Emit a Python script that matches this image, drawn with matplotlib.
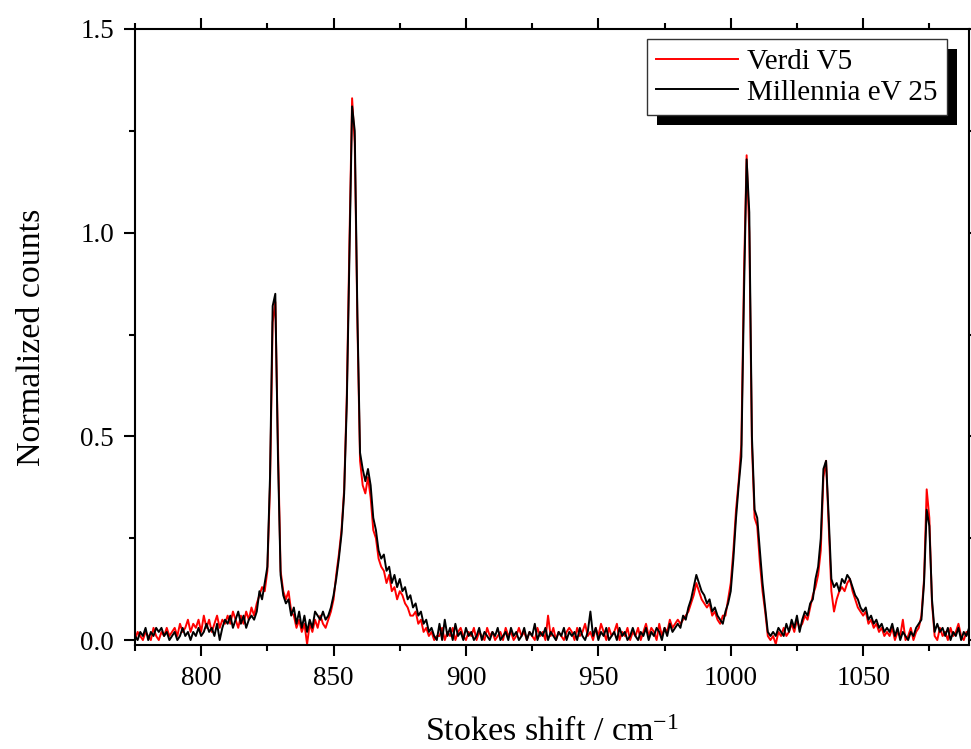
import numpy as np
import matplotlib
matplotlib.use("Agg")
import matplotlib.pyplot as plt
from matplotlib.patches import Rectangle
from matplotlib.transforms import IdentityTransform

plt.rcParams['font.family'] = ['Liberation Serif', 'DejaVu Serif']
plt.rcParams['mathtext.fontset'] = 'custom'
plt.rcParams['mathtext.rm'] = 'Liberation Serif'
plt.rcParams['mathtext.it'] = 'Liberation Serif:italic'

# Raman shift grid, 1 cm^-1 steps
shift = np.arange(775, 1091)

# Millennia eV 25 (black)
millennia = [
    # 775-789
    0.01, 0.00, 0.02, 0.01, 0.03, 0.00, 0.02, 0.01, 0.03, 0.02, 0.03, 0.01, 0.02, 0.00, 0.01,
    # 790-809
    0.02, 0.00, 0.01, 0.03, 0.01, 0.02, 0.00, 0.02, 0.01, 0.03, 0.01, 0.02, 0.04, 0.02, 0.03,
    0.01, 0.04, 0.00, 0.03, 0.05,
    # 810-821
    0.04, 0.06, 0.03, 0.05, 0.07, 0.04, 0.06, 0.03, 0.05, 0.06, 0.05, 0.07,
    # 822-834
    0.12, 0.10, 0.14, 0.18, 0.40, 0.82, 0.85, 0.45, 0.16, 0.11, 0.09, 0.10, 0.06,
    # 835-849
    0.08, 0.04, 0.07, 0.03, 0.06, 0.02, 0.05, 0.03, 0.07, 0.06, 0.05, 0.07, 0.05, 0.06, 0.08,
    # 850-860
    0.11, 0.15, 0.20, 0.26, 0.36, 0.58, 0.95, 1.31, 1.25, 0.80, 0.46,
    # 861-879
    0.42, 0.39, 0.42, 0.38, 0.30, 0.27, 0.22, 0.20, 0.21, 0.17, 0.18, 0.14, 0.16, 0.13, 0.15,
    0.12, 0.13, 0.10, 0.11,
    # 880-889
    0.08, 0.09, 0.06, 0.07, 0.04, 0.05, 0.02, 0.03, 0.01, 0.00,
    # 890-939
    0.04, 0.00, 0.05, 0.01, 0.03, 0.00, 0.04, 0.01, 0.02, 0.00,
    0.03, 0.01, 0.02, 0.00, 0.01, 0.03, 0.00, 0.02, 0.01, 0.00,
    0.02, 0.01, 0.03, 0.00, 0.01, 0.02, 0.00, 0.03, 0.01, 0.02,
    0.00, 0.01, 0.03, 0.00, 0.02, 0.01, 0.04, 0.00, 0.02, 0.01,
    0.03, 0.00, 0.02, 0.01, 0.00, 0.02, 0.01, 0.03, 0.00, 0.02,
    # 940-979
    0.01, 0.02, 0.00, 0.03, 0.01, 0.00, 0.02, 0.07, 0.01, 0.03,
    0.00, 0.02, 0.01, 0.03, 0.00, 0.01, 0.02, 0.00, 0.03, 0.01,
    0.02, 0.00, 0.01, 0.03, 0.01, 0.00, 0.02, 0.01, 0.03, 0.00,
    0.02, 0.01, 0.03, 0.02, 0.00, 0.03, 0.01, 0.04, 0.02, 0.03,
    # 980-1000
    0.04, 0.03, 0.06, 0.05, 0.08, 0.10, 0.13, 0.16, 0.14, 0.12, 0.11, 0.09, 0.10, 0.07, 0.08,
    0.06, 0.05, 0.04, 0.07, 0.09, 0.12,
    # 1001-1015
    0.20, 0.30, 0.38, 0.45, 0.85, 1.18, 1.05, 0.50, 0.32, 0.30, 0.22, 0.14, 0.08, 0.02, 0.01,
    # 1016-1029
    0.02, 0.01, 0.03, 0.02, 0.01, 0.04, 0.02, 0.05, 0.03, 0.06, 0.02, 0.05, 0.07, 0.06,
    # 1030-1039
    0.09, 0.10, 0.15, 0.18, 0.25, 0.42, 0.44, 0.30, 0.15, 0.13,
    # 1040-1059
    0.14, 0.12, 0.15, 0.14, 0.16, 0.15, 0.13, 0.11, 0.10, 0.08, 0.07, 0.08, 0.05, 0.06, 0.04,
    0.05, 0.03, 0.04, 0.02, 0.03,
    # 1060-1071
    0.02, 0.04, 0.01, 0.03, 0.00, 0.02, 0.01, 0.00, 0.02, 0.01, 0.03, 0.04,
    # 1072-1077
    0.05, 0.14, 0.32, 0.28, 0.10, 0.02,
    # 1078-1090
    0.04, 0.02, 0.03, 0.01, 0.03, 0.00, 0.02, 0.01, 0.03, 0.00, 0.02, 0.01, 0.03,
]

# Verdi V5 (red)
verdi = [
    # 775-789
    0.00, 0.02, 0.01, 0.00, 0.02, 0.01, 0.00, 0.03, 0.01, 0.00, 0.02, 0.01, 0.03, 0.01, 0.02,
    # 790-809
    0.03, 0.01, 0.04, 0.02, 0.03, 0.05, 0.02, 0.04, 0.03, 0.05, 0.02, 0.06, 0.03, 0.05, 0.02,
    0.04, 0.06, 0.03, 0.05, 0.04,
    # 810-821
    0.06, 0.04, 0.07, 0.05, 0.03, 0.06, 0.04, 0.07, 0.05, 0.08, 0.06, 0.09,
    # 822-834
    0.11, 0.13, 0.12, 0.17, 0.38, 0.78, 0.83, 0.48, 0.17, 0.12, 0.10, 0.12, 0.07,
    # 835-849
    0.06, 0.03, 0.05, 0.02, 0.04, -0.01, 0.04, 0.02, 0.05, 0.03, 0.06, 0.04, 0.03, 0.05, 0.07,
    # 850-860
    0.10, 0.16, 0.21, 0.27, 0.37, 0.60, 0.98, 1.33, 1.22, 0.78, 0.44,
    # 861-879
    0.38, 0.36, 0.40, 0.35, 0.27, 0.25, 0.20, 0.18, 0.17, 0.14, 0.16, 0.12, 0.13, 0.10, 0.12,
    0.11, 0.09, 0.08, 0.06,
    # 880-889
    0.06, 0.07, 0.04, 0.05, 0.02, 0.03, 0.01, 0.02, 0.00, 0.01,
    # 890-939
    0.01, 0.03, 0.00, 0.02, 0.01, 0.03, 0.00, 0.02, 0.03, 0.01,
    0.00, 0.02, 0.01, 0.03, 0.00, 0.02, 0.01, 0.00, 0.03, 0.01,
    0.02, 0.00, 0.01, 0.02, 0.00, 0.03, 0.01, 0.02, 0.00, 0.01,
    0.03, 0.01, 0.02, 0.00, 0.02, 0.01, 0.00, 0.03, 0.01, 0.02,
    0.00, 0.06, 0.01, 0.03, 0.00, 0.02, 0.01, 0.00, 0.02, 0.03,
    # 940-979
    0.02, 0.00, 0.03, 0.01, 0.02, 0.04, 0.01, 0.02, 0.00, 0.03,
    0.01, 0.04, 0.02, 0.00, 0.03, 0.01, 0.02, 0.04, 0.00, 0.02,
    0.01, 0.03, 0.00, 0.02, 0.01, 0.03, 0.00, 0.02, 0.04, 0.01,
    0.03, 0.02, 0.00, 0.04, 0.01, 0.03, 0.02, 0.05, 0.03, 0.04,
    # 980-1000
    0.05, 0.04, 0.05, 0.06, 0.07, 0.09, 0.11, 0.14, 0.12, 0.10, 0.09, 0.08, 0.09, 0.06, 0.07,
    0.05, 0.04, 0.06, 0.06, 0.10, 0.14,
    # 1001-1015
    0.22, 0.32, 0.39, 0.48, 0.90, 1.19, 1.00, 0.48, 0.30, 0.28, 0.19, 0.12, 0.07, 0.01, 0.00,
    # 1016-1029
    0.01, -0.01, 0.02, 0.01, 0.03, 0.01, 0.02, 0.04, 0.02, 0.05, 0.03, 0.04, 0.06, 0.05,
    # 1030-1039
    0.08, 0.11, 0.13, 0.16, 0.22, 0.40, 0.44, 0.28, 0.12, 0.07,
    # 1040-1059
    0.10, 0.12, 0.13, 0.12, 0.14, 0.15, 0.12, 0.10, 0.08, 0.07, 0.06, 0.07, 0.04, 0.05, 0.03,
    0.04, 0.02, 0.03, 0.01, 0.02,
    # 1060-1071
    0.01, 0.03, 0.00, 0.02, 0.01, 0.05, 0.00, 0.01, 0.03, 0.00, 0.02, 0.03,
    # 1072-1077
    0.06, 0.15, 0.37, 0.30, 0.09, 0.01,
    # 1078-1090
    0.00, 0.03, 0.01, 0.02, 0.00, 0.03, 0.01, 0.02, 0.04, 0.01, 0.00, 0.02, 0.01,
]

series_names = ["Verdi V5", "Millennia eV 25"]
x_major = [800, 850, 900, 950, 1000, 1050]
y_major = [0.0, 0.5, 1.0, 1.5]

fig = plt.figure(figsize=(9.71, 7.49), dpi=100)
ax = fig.add_axes([0.139, 0.1389, 0.859, 0.8224])

ax.plot(shift, verdi, color='#ff0000', lw=1.4, label=series_names[0])
ax.plot(shift, millennia, color='black', lw=1.4, label=series_names[1])

ax.set_xlim(775, 1090)
ax.set_ylim(-0.012, 1.5)
ax.set_xticks(x_major)
ax.set_xticks(np.arange(775, 1091, 25), minor=True)
ax.set_yticks(y_major)
ax.set_yticklabels(["%.1f" % v for v in y_major])
ax.set_yticks([0.25, 0.75, 1.25], minor=True)

for s in ax.spines.values():
    s.set_linewidth(1.5)
ax.tick_params(which='both', direction='out', top=True, right=True, width=1.5,
               labelsize=19.5, pad=7)
ax.tick_params(which='major', length=8)
ax.tick_params(which='minor', length=4)

ax.set_xlabel("Stokes shift / cm$^{-1}$", fontsize=24.5, labelpad=19)
ax.set_ylabel("Normalized counts", fontsize=24.5, labelpad=24)

leg = ax.legend(loc='upper right', bbox_to_anchor=(0.9736, 0.9838),
                borderaxespad=0, fontsize=21, frameon=True, fancybox=False,
                handlelength=2.8, handletextpad=0.3,
                borderpad=0.33, labelspacing=0.14, framealpha=1)
leg.get_frame().set_edgecolor('#333333')
leg.get_frame().set_linewidth(1.0)

# solid black drop shadow behind the legend box
fig.canvas.draw()
bb = leg.get_window_extent()
shadow = Rectangle((bb.x0 + 10, bb.y0 - 10), bb.width, bb.height,
                   transform=IdentityTransform(), facecolor='black',
                   edgecolor='none', zorder=4.5)
ax.add_artist(shadow)

fig.savefig("out.png", dpi=100)
